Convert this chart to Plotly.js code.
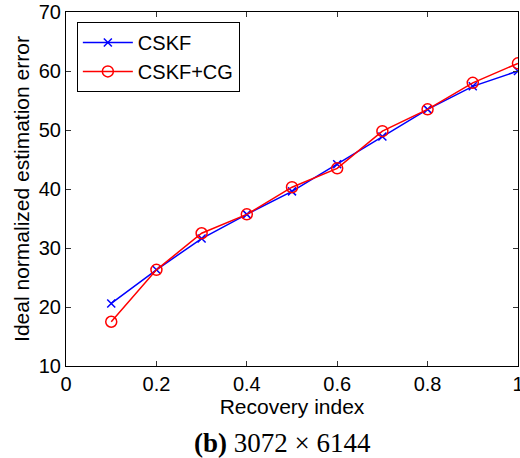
<!DOCTYPE html>
<html><head><meta charset="utf-8">
<script src="https://cdn.plot.ly/plotly-3.0.1.min.js"></script>
<style>body{margin:0;background:#fff}#c{width:520px;height:458px}</style>
</head><body><div id="c"></div>
<script>
const recoveryIndex = [0.1,0.2,0.3,0.4,0.5,0.6,0.7,0.8,0.9,1.0];
const cskf = [20.6,26.3,31.6,35.7,39.6,44.2,48.9,53.5,57.4,60.0];
const cskfCG = [17.5,26.3,32.5,35.7,40.3,43.5,49.8,53.5,58.0,61.3];
const xTicks = [0,0.2,0.4,0.6,0.8,1];
const xTickText = ['0','0.2','0.4','0.6','0.8','1'];
const yTicks = [10,20,30,40,50,60,70];

const fontFam = 'Liberation Sans, Arial, sans-serif';
const traces = [
  {x: recoveryIndex, y: cskf, name: 'CSKF', mode: 'lines+markers',
   line: {color: '#0000ff', width: 1.5},
   marker: {symbol: 'x-thin-open', size: 8, color: '#0000ff', line: {color: '#0000ff', width: 1.5}}},
  {x: recoveryIndex, y: cskfCG, name: 'CSKF+CG', mode: 'lines+markers',
   line: {color: '#ff0000', width: 1.5},
   marker: {symbol: 'circle-open', size: 11, color: '#ff0000', line: {color: '#ff0000', width: 1.5}}}
];
const axisCommon = {
  showline: true, mirror: 'ticks', linecolor: '#000', linewidth: 1,
  ticks: 'inside', ticklen: 5, tickcolor: '#333', showgrid: false, zeroline: false,
  ticklabeloverflow: 'allow',
  tickfont: {family: fontFam, size: 20, color: '#000'}
};
const layout = {
  width: 520, height: 458,
  margin: {l: 66, r: 2, t: 12, b: 92},
  paper_bgcolor: '#fff', plot_bgcolor: '#fff',
  font: {family: fontFam, color: '#000'},
  xaxis: Object.assign({}, axisCommon, {
    range: [-0.0001, 1.0001], tickvals: xTicks, ticktext: xTickText,
    title: {text: 'Recovery index', font: {family: fontFam, size: 21}, standoff: 5}
  }),
  yaxis: Object.assign({}, axisCommon, {
    range: [9.999, 70.001], tickvals: yTicks,
    title: {text: 'Ideal normalized estimation error', font: {family: fontFam, size: 21}, standoff: 3}
  }),
  showlegend: true,
  legend: {x: 0.024, y: 0.972, xanchor: 'left', yanchor: 'top',
    bgcolor: '#fff', bordercolor: '#000', borderwidth: 1, itemwidth: 50,
    font: {family: fontFam, size: 20, color: '#000'}, tracegroupgap: 0},
  annotations: [{
    xref: 'paper', yref: 'paper', x: 0.478, y: -0.218, xanchor: 'center', yanchor: 'middle',
    showarrow: false, text: '<b>(b)</b> 3072 × 6144',
    font: {family: 'Liberation Serif, DejaVu Serif, serif', size: 27, color: '#000'}
  }]
};
Plotly.newPlot('c', traces, layout, {displayModeBar: false, staticPlot: true});
</script></body></html>
